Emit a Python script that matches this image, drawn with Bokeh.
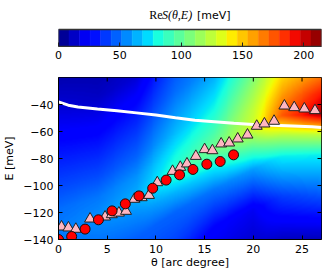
import numpy as np
from bokeh.plotting import figure
from bokeh.models import Range1d, FixedTicker, LinearColorMapper, Label
from bokeh.layouts import column
from bokeh.embed import file_html
from bokeh.resources import INLINE

# ---------------- data ----------------
tri_theta = [0.31, 1.02, 1.78, 3.24, 4.78, 5.47, 6.2, 6.93, 7.79, 8.54, 9.29, 10.14,
             11.71, 12.5, 13.19, 14.1, 15.0, 15.8, 16.7, 17.52, 18.4, 19.4, 20.35,
             21.14, 22.13, 23.19, 24.2, 25.24, 26.33]
tri_E = [-130.6, -131.3, -132.3, -124.7, -123.2, -121.5, -120.3, -119.0, -110.1, -108.9,
         -107.2, -97.8, -89.4, -86.4, -83.9, -78.3, -73.3, -74.1, -69.1, -68.4, -65.4,
         -62.5, -56.0, -54.3, -52.3, -41.0, -42.2, -43.2, -44.4]

circ_theta = [0.0, 1.35, 2.73, 4.1, 5.5, 6.86, 8.26, 9.67, 11.05, 12.43, 13.8, 15.23, 16.6, 17.97]
circ_E = [-140.0, -137.8, -132.3, -125.4, -118.8, -113.6, -107.7, -102.0, -96.0, -92.1,
          -88.1, -84.2, -82.2, -77.3]

line_theta = [0, 1, 2, 4, 6, 8, 10, 12, 14, 16, 18, 20, 22, 24, 26, 27]
line_E = [-38.0, -40.5, -41.8, -43.3, -44.7, -46.2, -47.8, -49.8, -51.7, -52.8, -53.9,
          -54.8, -55.4, -55.9, -56.5, -57.0]

# heat map ReS(theta, E): values read along a ridge-aligned grid
ridge_theta = [0, 4, 8, 12, 16, 20, 23, 27]
ridge_E = [-133, -124, -109, -90, -73, -58, -48, -47]
map_theta = [0, 4, 8, 12, 16, 20, 23, 27]
map_d = [-100, -60, -30, -15, 0, 15, 30, 60, 90, 120]   # E - ridge
map_vals = [
    [45, 45, 47, 50, 53, 50, 43, 30, 17, 7],
    [45, 46, 48, 52, 57, 52, 43, 28, 13, 6],
    [40, 42, 47, 55, 64, 58, 48, 33, 16, 8],
    [30, 38, 48, 65, 88, 78, 66, 50, 40, 30],
    [15, 25, 52, 75, 105, 92, 80, 60, 50, 40],
    [10, 22, 60, 95, 130, 125, 115, 90, 80, 70],
    [6, 40, 78, 120, 175, 160, 145, 130, 120, 110],
    [4, 45, 78, 125, 205, 190, 165, 150, 140, 130],
]

x_ticks = [0, 5, 10, 15, 20, 25]
y_ticks = [-140, -120, -100, -80, -60, -40]
cb_ticks = [0, 50, 100, 150, 200]
cmin, cmax = 0.0, 214.4
n_bands = 25

# ---------------- colour map ----------------
def jet(v):
    v = np.clip(np.asarray(v, dtype=float), 0, 1)
    r = np.interp(v, [0, 0.35, 0.66, 0.89, 1], [0, 0, 1, 1, 0.5])
    g = np.interp(v, [0, 0.125, 0.375, 0.64, 0.91, 1], [0, 0, 1, 1, 0, 0])
    b = np.interp(v, [0, 0.11, 0.34, 0.65, 1], [0.5, 1, 1, 0, 0])
    return ["#%02x%02x%02x" % (int(round(a * 255)), int(round(c * 255)), int(round(d * 255)))
            for a, c, d in zip(np.atleast_1d(r), np.atleast_1d(g), np.atleast_1d(b))]

palette = jet(np.linspace(0, 1, 256))
mapper = LinearColorMapper(palette=palette, low=cmin, high=cmax)

# ---------------- build image ----------------
nx, ny = 270, 162
th = np.linspace(0, 27, nx)
ee = np.linspace(-140, -20, ny)
TH, EE = np.meshgrid(th, ee)
D = EE - np.interp(TH, ridge_theta, ridge_E)
V = np.array(map_vals, dtype=float)
K = len(map_theta)
Vall = np.stack([np.interp(D, map_d, V[k]) for k in range(K)])
w = np.interp(TH, map_theta, np.arange(K))
i0 = np.clip(np.floor(w).astype(int), 0, K - 2)
f = w - i0
Z0 = np.take_along_axis(Vall, i0[None], axis=0)[0]
Z1 = np.take_along_axis(Vall, (i0 + 1)[None], axis=0)[0]
Z = Z0 * (1 - f) + Z1 * f

FONT = "DejaVu Sans"

# ---------------- colour bar figure ----------------
# frame spans bar (y 0..1) plus title space above it
cb = figure(width=323, height=68, x_range=Range1d(cmin, cmax), y_range=Range1d(0, 2.412),
            min_border_left=57, min_border_right=2, min_border_top=5, min_border_bottom=22,
            output_backend="svg", toolbar_location=None, y_axis_location=None)
edges = np.linspace(cmin, cmax, n_bands + 1)
band_cols = jet((edges[:-1] + edges[1:]) / 2 / cmax)
cb.quad(left=edges[:-1], right=edges[1:], bottom=0, top=1, fill_color=band_cols,
        line_color=band_cols, line_width=0.5)
cb.quad(left=[cmin], right=[cmax], bottom=[0], top=[1], fill_color=None,
        line_color="#333333", line_width=1.5)
cb.grid.visible = False
cb.outline_line_color = None
cb.background_fill_color = "white"
cb.xaxis.ticker = FixedTicker(ticks=cb_ticks)
cb.xaxis.major_tick_in = 4
cb.xaxis.major_tick_out = 0
cb.xaxis.minor_tick_line_color = None
cb.xaxis.major_tick_line_color = "#222222"
cb.xaxis.axis_line_color = "#333333"
cb.xaxis.major_label_text_font = FONT
cb.xaxis.major_label_text_font_size = "11px"
cb.xaxis.major_label_text_color = "black"
cb.xaxis.major_label_standoff = 4

cb.add_layout(Label(x=73.9, y=1.824, text="Re", text_font="Liberation Serif",
                    text_font_size="12px", text_baseline="middle", text_color="black"))
cb.add_layout(Label(x=84.3, y=1.824, text="S(θ,E)", text_font="Liberation Serif",
                    text_font_style="italic", text_font_size="12px", text_baseline="middle",
                    text_color="black"))
cb.add_layout(Label(x=112.9, y=1.824, text="[meV]", text_font=FONT,
                    text_font_size="11px", text_baseline="middle", text_color="black"))

# ---------------- main figure ----------------
p = figure(width=323, height=204, x_range=Range1d(0, 27), y_range=Range1d(-140, -20),
           min_border_left=57, min_border_right=2, min_border_top=9, min_border_bottom=33,
           output_backend="svg", toolbar_location=None)
p.image(image=[Z], x=0, y=-140, dw=27, dh=120, color_mapper=mapper)
p.line(line_theta, line_E, line_color="white", line_width=3)

# ticks on top and right frame edges (matplotlib style)
xt = np.array(x_ticks[1:], dtype=float)
yt = np.array(y_ticks[1:], dtype=float)
p.segment(x0=xt, y0=-20.0, x1=xt, y1=-20.0 - 4 / 1.35, line_color="black", line_width=1)
p.segment(x0=27.0, y0=yt, x1=27.0 - 4 / 9.778, y1=yt, line_color="black", line_width=1)

p.scatter(tri_theta, tri_E, marker="triangle", size=11, fill_color="#FFB6C1",
          line_color="#222222", line_width=1)
p.scatter(circ_theta, circ_E, marker="circle", size=10, fill_color="#FF0000",
          line_color="#111111", line_width=1)

p.grid.visible = False
p.outline_line_color = "black"
p.xaxis.ticker = FixedTicker(ticks=x_ticks)
p.yaxis.ticker = FixedTicker(ticks=y_ticks)
for ax in [p.xaxis[0], p.yaxis[0]]:
    ax.major_tick_in = 4
    ax.major_tick_out = 0
    ax.minor_tick_line_color = None
    ax.major_tick_line_color = "black"
    ax.axis_line_color = "black"
    ax.major_label_text_font = FONT
    ax.major_label_text_font_size = "11px"
    ax.major_label_text_color = "black"
    ax.major_label_standoff = 5
    ax.axis_label_text_font = FONT
    ax.axis_label_text_font_size = "11px"
    ax.axis_label_text_font_style = "normal"
    ax.axis_label_text_color = "black"

p.xaxis.axis_label = "θ [arc degree]"
p.xaxis.axis_label_standoff = 0
p.yaxis.axis_label = "E [meV]"
p.yaxis.axis_label_standoff = 4

layout = column(cb, p)
open("out.html", "w").write(file_html(layout, INLINE))
